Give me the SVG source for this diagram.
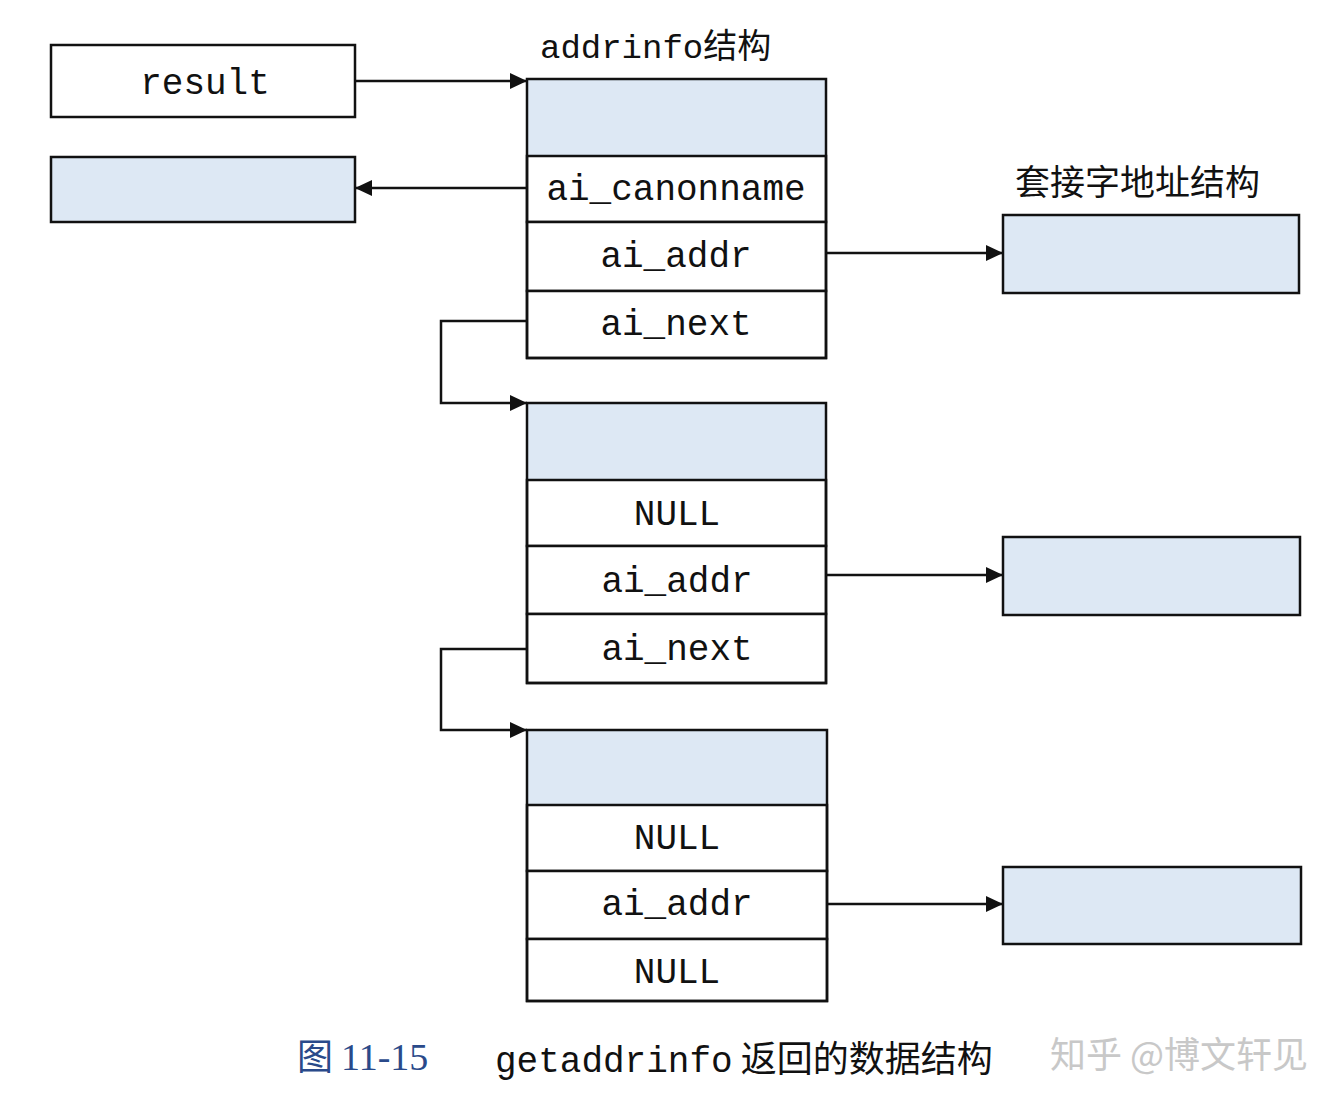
<svg xmlns="http://www.w3.org/2000/svg" width="1342" height="1111" viewBox="0 0 1342 1111">
<defs>
<style>
.b{fill:#fff;stroke:#111;stroke-width:2.5}
.s{fill:#dde8f4;stroke:#111;stroke-width:2.5}
.h{fill:#dde8f4;stroke:none}
.t{font-family:"Liberation Mono",monospace;font-size:36px;fill:#111;text-anchor:middle}
.c{font-family:"Noto Sans CJK SC",sans-serif;font-size:35px;fill:#111}
.l{fill:none;stroke:#111;stroke-width:2.5}
</style>
<marker id="a" markerWidth="18" markerHeight="18" refX="17" refY="9" orient="auto" markerUnits="userSpaceOnUse"><path d="M0,1 L17,9 L0,17 z" fill="#111"/></marker>
</defs>
<rect width="1342" height="1111" fill="#fff"/>
<g id="result"><rect class="b" x="51" y="45" width="304" height="72"/><text class="t" x="205" y="94">result</text></g>
<g id="canon"><rect class="s" x="51" y="157" width="304" height="65"/></g>
<text x="540" y="58" font-family="Liberation Mono,Noto Sans CJK SC,monospace" font-size="34" fill="#111">addrinfo<tspan font-family="Noto Sans CJK SC,sans-serif">结构</tspan></text>
<text class="c" x="1015" y="195">套接字地址结构</text>
<g id="node1">
<rect class="h" x="527" y="79" width="299" height="77"/>
<rect class="b" x="527" y="156" width="299" height="66"/><text class="t" x="676" y="200">ai_canonname</text>
<rect class="b" x="527" y="222" width="299" height="69"/><text class="t" x="676" y="267">ai_addr</text>
<rect class="b" x="527" y="291" width="299" height="67"/><text class="t" x="676" y="335">ai_next</text>
<rect class="l" x="527" y="79" width="299" height="279"/>
</g>
<g id="sock1"><rect class="s" x="1003" y="215" width="296" height="78"/></g>
<g id="node2">
<rect class="h" x="527" y="403" width="299" height="77"/>
<rect class="b" x="527" y="480" width="299" height="66"/><text class="t" x="677" y="525">NULL</text>
<rect class="b" x="527" y="546" width="299" height="68"/><text class="t" x="677" y="592">ai_addr</text>
<rect class="b" x="527" y="614" width="299" height="69"/><text class="t" x="677" y="660">ai_next</text>
<rect class="l" x="527" y="403" width="299" height="280"/>
</g>
<g id="sock2"><rect class="s" x="1003" y="537" width="297" height="78"/></g>
<g id="node3">
<rect class="h" x="527" y="730" width="300" height="75"/>
<rect class="b" x="527" y="805" width="300" height="66"/><text class="t" x="677" y="849">NULL</text>
<rect class="b" x="527" y="871" width="300" height="68"/><text class="t" x="677" y="915">ai_addr</text>
<rect class="b" x="527" y="939" width="300" height="62"/><text class="t" x="677" y="983">NULL</text>
<rect class="l" x="527" y="730" width="300" height="271"/>
</g>
<g id="sock3"><rect class="s" x="1003" y="867" width="298" height="77"/></g>
<g id="connectors">
<path class="l" d="M355,81 H527" marker-end="url(#a)"/>
<path class="l" d="M527,188 H355" marker-end="url(#a)"/>
<path class="l" d="M826,253 H1003" marker-end="url(#a)"/>
<path class="l" d="M527,321 H441 V403 H527" marker-end="url(#a)"/>
<path class="l" d="M826,575 H1003" marker-end="url(#a)"/>
<path class="l" d="M527,649 H441 V730 H527" marker-end="url(#a)"/>
<path class="l" d="M827,904 H1003" marker-end="url(#a)"/>
</g>
<text x="297" y="1070" font-family="Noto Sans CJK SC,sans-serif" font-size="36" fill="#2a4a8a">图 <tspan font-family="Liberation Serif,serif" font-size="38">11-15</tspan></text>
<text x="495" y="1072" font-family="Liberation Mono,monospace" font-size="36" fill="#111">getaddrinfo<tspan font-family="Noto Sans CJK SC,sans-serif"> 返回的数据结构</tspan></text>
<text x="1050" y="1068" font-family="Noto Sans CJK SC,sans-serif" font-size="36" fill="#bbb" opacity="0.8">知乎 @博文轩见</text>
</svg>
